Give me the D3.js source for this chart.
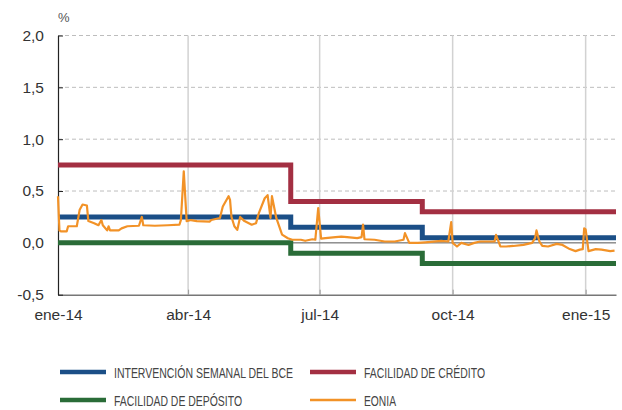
<!DOCTYPE html>
<html>
<head>
<meta charset="utf-8">
<script src="https://cdn.jsdelivr.net/npm/d3@7"></script>
<style>
  body { margin: 0; background: #fff; }
  text { font-family: "Liberation Sans", Arial, sans-serif; }
  .legend text { font-family: "Liberation Sans Narrow", "Liberation Sans", sans-serif; }
</style>
</head>
<body>
<div id="container"></div>
<script>
// EONIA (daily)
var eoniaDates = ["2014-01-01","2014-01-02","2014-01-03","2014-01-07","2014-01-08","2014-01-14","2014-01-16","2014-01-18",
  "2014-01-21","2014-01-22","2014-01-26","2014-01-29","2014-01-31","2014-02-01","2014-02-04","2014-02-05","2014-02-06",
  "2014-02-12","2014-02-14","2014-02-18","2014-02-26","2014-02-28","2014-03-01","2014-03-09","2014-03-18","2014-03-26",
  "2014-03-27","2014-03-29","2014-03-31","2014-04-03","2014-04-07","2014-04-16","2014-04-17","2014-04-23","2014-04-25",
  "2014-04-29","2014-04-30","2014-05-01","2014-05-03","2014-05-05","2014-05-07","2014-05-10","2014-05-15","2014-05-18",
  "2014-05-20","2014-05-24","2014-05-26","2014-05-28","2014-05-29","2014-06-01","2014-06-05","2014-06-09","2014-06-12",
  "2014-06-18","2014-06-21","2014-06-26","2014-06-28","2014-06-30","2014-07-02","2014-07-05","2014-07-12","2014-07-16",
  "2014-07-20","2014-07-27","2014-07-30","2014-07-31","2014-08-01","2014-08-08","2014-08-15","2014-08-22","2014-08-28",
  "2014-08-29","2014-09-01","2014-09-07","2014-09-12","2014-09-16","2014-09-23","2014-09-28","2014-09-30","2014-10-01",
  "2014-10-04","2014-10-07","2014-10-12","2014-10-16","2014-10-20","2014-10-27","2014-10-30","2014-10-31","2014-11-03",
  "2014-11-07","2014-11-12","2014-11-19","2014-11-25","2014-11-27","2014-11-28","2014-11-30","2014-12-02","2014-12-06",
  "2014-12-12","2014-12-16","2014-12-21","2014-12-25","2014-12-28","2014-12-30","2014-12-31","2015-01-01","2015-01-03",
  "2015-01-08","2015-01-12","2015-01-18","2015-01-21"];
var eoniaValues = [0.45,0.12,0.11,0.11,0.16,0.16,0.32,0.37,
  0.36,0.21,0.19,0.17,0.22,0.17,0.12,0.16,0.12,
  0.12,0.14,0.16,0.165,0.25,0.17,0.165,0.17,0.175,
  0.22,0.69,0.21,0.22,0.21,0.205,0.22,0.24,0.35,
  0.45,0.415,0.25,0.16,0.125,0.25,0.21,0.175,0.19,
  0.29,0.43,0.46,0.24,0.45,0.24,0.08,0.045,0.03,
  0.03,0.02,0.035,0.03,0.335,0.04,0.045,0.055,0.06,
  0.055,0.045,0.055,0.175,0.035,0.03,0.013,0.013,0.03,
  0.094,0.0,0.0,0.005,0.01,0.02,0.013,0.20,0.0,
  -0.035,0.0,-0.02,0.0,0.013,0.013,0.013,0.077,-0.035,
  -0.035,-0.03,-0.02,0.0,0.045,0.12,0.013,-0.03,-0.035,
  -0.01,-0.02,-0.06,-0.08,-0.065,-0.06,0.14,0.13,-0.08,
  -0.06,-0.065,-0.08,-0.075];

// ECB policy rates (change dates)
var rateDates = ["2014-01-01","2014-06-11","2014-09-10","2015-01-22"];
var mroRate = [0.25, 0.15, 0.05, 0.05];
var lendingRate = [0.75, 0.40, 0.30, 0.30];
var depositRate = [0.00, -0.10, -0.20, -0.20];

var xTickDates = ["2014-01-01","2014-04-01","2014-07-01","2014-10-01","2015-01-01"];
var xTickLabels = ["ene-14","abr-14","jul-14","oct-14","ene-15"];
var yTicks = [-0.5, 0.0, 0.5, 1.0, 1.5, 2.0];

var legendLabels = ["INTERVENCIÓN SEMANAL DEL BCE","FACILIDAD DE CRÉDITO","FACILIDAD DE DEPÓSITO","EONIA"];

var width = 622, height = 410;
var margin = {left: 58, top: 35.5, right: 6, bottom: 115.3};

var parse = d3.timeParse("%Y-%m-%d");
var esLocale = d3.formatLocale({decimal: ",", thousands: ".", grouping: [3], currency: ["", " €"], minus: "-"});
var fmt = esLocale.format(".1f");

var svg = d3.select("#container").append("svg")
    .attr("width", width)
    .attr("height", height);

var xScale = d3.scaleTime()
    .domain([parse("2014-01-01"), parse("2015-01-22")])
    .range([margin.left, width - margin.right]);

var yScale = d3.scaleLinear()
    .domain([-0.5, 2.0])
    .range([height - margin.bottom, margin.top]);

var x0 = margin.left, x1 = width - margin.right;
var yTop = yScale(2.0), yBot = yScale(-0.5);

// horizontal dashed grid
svg.append("g").selectAll("line")
   .data(yTicks.filter(d => d > 0))
   .enter().append("line")
   .attr("x1", x0).attr("x2", x1)
   .attr("y1", d => yScale(d)).attr("y2", d => yScale(d))
   .attr("stroke", "#bdbdbd")
   .attr("stroke-width", 1)
   .attr("stroke-dasharray", "4,3");

// vertical grid
svg.append("g").selectAll("line")
   .data(xTickDates.slice(1))
   .enter().append("line")
   .attr("x1", d => xScale(parse(d))).attr("x2", d => xScale(parse(d)))
   .attr("y1", yTop).attr("y2", yBot)
   .attr("stroke", "#d2d2d2")
   .attr("stroke-width", 1.5);

// zero line
svg.append("line")
   .attr("x1", x0).attr("x2", x1)
   .attr("y1", yScale(0)).attr("y2", yScale(0))
   .attr("stroke", "#555")
   .attr("stroke-width", 1);

// axes
var xAxis = d3.axisBottom(xScale)
    .tickValues(xTickDates.map(parse))
    .tickFormat((d, i) => xTickLabels[i])
    .tickSizeInner(-5).tickSizeOuter(0).tickPadding(14);
var gx = svg.append("g")
    .attr("transform", "translate(0," + yBot + ")")
    .call(xAxis);
gx.select(".domain").attr("stroke", "#777").attr("stroke-width", 1.5);
gx.selectAll(".tick line").attr("stroke", "#999");
gx.selectAll(".tick text").attr("font-size", "15.5px").attr("fill", "#333");

var yAxis = d3.axisLeft(yScale)
    .tickValues(yTicks)
    .tickFormat(fmt)
    .tickSizeInner(-5).tickSizeOuter(0).tickPadding(14);
var gy = svg.append("g")
    .attr("transform", "translate(" + x0 + ",0)")
    .call(yAxis);
gy.select(".domain").attr("stroke", "#222").attr("stroke-width", 1.2);
gy.selectAll(".tick line").attr("stroke", "#222");
gy.selectAll(".tick text").attr("font-size", "15.5px").attr("fill", "#333");

svg.append("text")
   .attr("x", x0).attr("y", 22)
   .attr("font-size", "13px").attr("fill", "#555")
   .text("%");

// series
var colors = ["#1b4f87", "#a32f42", "#2a6c38", "#f29227"];
var stepLine = d3.line()
    .x(d => xScale(d.date)).y(d => yScale(d.value))
    .curve(d3.curveStepAfter);
var plainLine = d3.line()
    .x(d => xScale(d.date)).y(d => yScale(d.value));

function rows(dates, vals) {
    return dates.map((d, i) => ({date: parse(d), value: vals[i]}));
}

var rateSeries = [
    {values: rows(rateDates, lendingRate), color: colors[1]},
    {values: rows(rateDates, mroRate), color: colors[0]},
    {values: rows(rateDates, depositRate), color: colors[2]}
];

svg.append("g").selectAll("path")
   .data(rateSeries)
   .enter().append("path")
   .attr("d", d => stepLine(d.values))
   .attr("fill", "none")
   .attr("stroke", d => d.color)
   .attr("stroke-width", 5);

svg.append("path")
   .attr("d", plainLine(rows(eoniaDates, eoniaValues)))
   .attr("fill", "none")
   .attr("stroke", colors[3])
   .attr("stroke-width", 2.2)
   .attr("stroke-linejoin", "round");

// legend
var legend = svg.append("g").attr("class", "legend");
var legendPos = [[60, 372], [310, 372], [60, 400], [310, 400]];
var legendWidths = [179, 121, 128, 32];
var legendStroke = [4.5, 4.5, 4.5, 2.5];

legend.selectAll("line")
   .data(legendLabels)
   .enter().append("line")
   .attr("x1", (d, i) => legendPos[i][0])
   .attr("x2", (d, i) => legendPos[i][0] + 46)
   .attr("y1", (d, i) => legendPos[i][1])
   .attr("y2", (d, i) => legendPos[i][1])
   .attr("stroke", (d, i) => colors[i])
   .attr("stroke-width", (d, i) => legendStroke[i]);

legend.selectAll("text")
   .data(legendLabels)
   .enter().append("text")
   .attr("x", (d, i) => legendPos[i][0] + 54)
   .attr("y", (d, i) => legendPos[i][1] + 5.5)
   .attr("font-size", "15px")
   .attr("fill", "#444")
   .attr("textLength", (d, i) => legendWidths[i])
   .attr("lengthAdjust", "spacingAndGlyphs")
   .text(d => d);
</script>
</body>
</html>
